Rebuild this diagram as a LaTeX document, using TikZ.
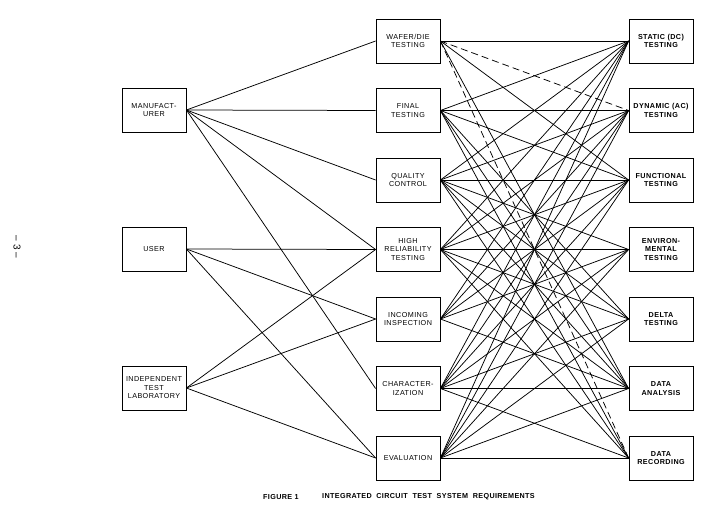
\documentclass[tikz,border=0pt]{standalone}
\usepackage{fontspec}
\setmainfont{Liberation Sans}
\newfontfamily\boxfont[LetterSpace=6]{Liberation Sans}
\newfontfamily\captfont[LetterSpace=5]{Liberation Sans}
\begin{document}
\begin{tikzpicture}[x=1pt,y=-1pt,
  box/.style={draw, line width=0.8pt, minimum width=64pt, minimum height=44pt, inner sep=0pt, align=center, font=\boxfont\fontsize{7.2}{8.5}\selectfont},
  rbox/.style={box, font=\boxfont\fontsize{7.2}{8.5}\selectfont\bfseries},
  link/.style={line width=0.75pt},
  dlink/.style={link, dash pattern=on 7pt off 4pt},
  capt/.style={anchor=west, inner sep=0pt, font=\captfont\fontsize{7.2}{8.5}\selectfont\bfseries}]
\useasboundingbox (0,0) rectangle (710,517);
% left column
\node[box] (man) at (154,110) {MANUFACT-\\URER};
\node[box] (usr) at (154,249) {USER};
\node[box] (ind) at (154,388) {INDEPENDENT\\TEST\\LABORATORY};
% middle column
\node[box] (m0) at (408,41)    {WAFER/DIE\\TESTING};
\node[box] (m1) at (408,110.5) {FINAL\\TESTING};
\node[box] (m2) at (408,180)   {QUALITY\\CONTROL};
\node[box] (m3) at (408,249.5) {HIGH\\RELIABILITY\\TESTING};
\node[box] (m4) at (408,319)   {INCOMING\\INSPECTION};
\node[box] (m5) at (408,388.5) {CHARACTER-\\IZATION};
\node[box] (m6) at (408,458)   {EVALUATION};
% right column
\node[rbox] (r0) at (661,41)    {STATIC (DC)\\TESTING};
\node[rbox] (r1) at (661,110.5) {DYNAMIC (AC)\\TESTING};
\node[rbox] (r2) at (661,180)   {FUNCTIONAL\\TESTING};
\node[rbox] (r3) at (661,249.5) {ENVIRON-\\MENTAL\\TESTING};
\node[rbox] (r4) at (661,319)   {DELTA\\TESTING};
\node[rbox] (r5) at (661,388.5) {DATA\\ANALYSIS};
\node[rbox] (r6) at (661,458)   {DATA\\RECORDING};
% left to middle
\foreach \t in {m0,m1,m2,m3,m5} \draw[link] (man.east) -- (\t.west);
\foreach \t in {m3,m4,m6} \draw[link] (usr.east) -- (\t.west);
\foreach \t in {m3,m4,m6} \draw[link] (ind.east) -- (\t.west);
% middle to right
\foreach \a/\b in {0/0,0/2,0/5,
                   1/0,1/1,1/2,1/4,1/5,1/6,
                   2/0,2/1,2/2,2/3,2/4,2/5,2/6,
                   3/0,3/1,3/2,3/3,3/4,3/5,3/6,
                   4/0,4/1,4/2,4/3,4/5,
                   5/0,5/1,5/2,5/3,5/4,5/5,5/6,
                   6/0,6/1,6/2,6/3,6/4,6/5,6/6}
  \draw[link] (m\a.east) -- (r\b.west);
\draw[dlink] (m0.east) -- (r1.west);
\draw[dlink] (m0.east) -- (r6.west);
% caption and page number
\node[capt] (fig) at (263,497) {FIGURE 1};
\node[capt] (title) at (322,497) {INTEGRATED\ \ CIRCUIT\ \ TEST\ \ SYSTEM\ \ REQUIREMENTS};
\node[rotate=-90, font=\fontsize{10}{12}\selectfont] (pg) at (17,247) {-- 3 --};
\end{tikzpicture}
\end{document}
